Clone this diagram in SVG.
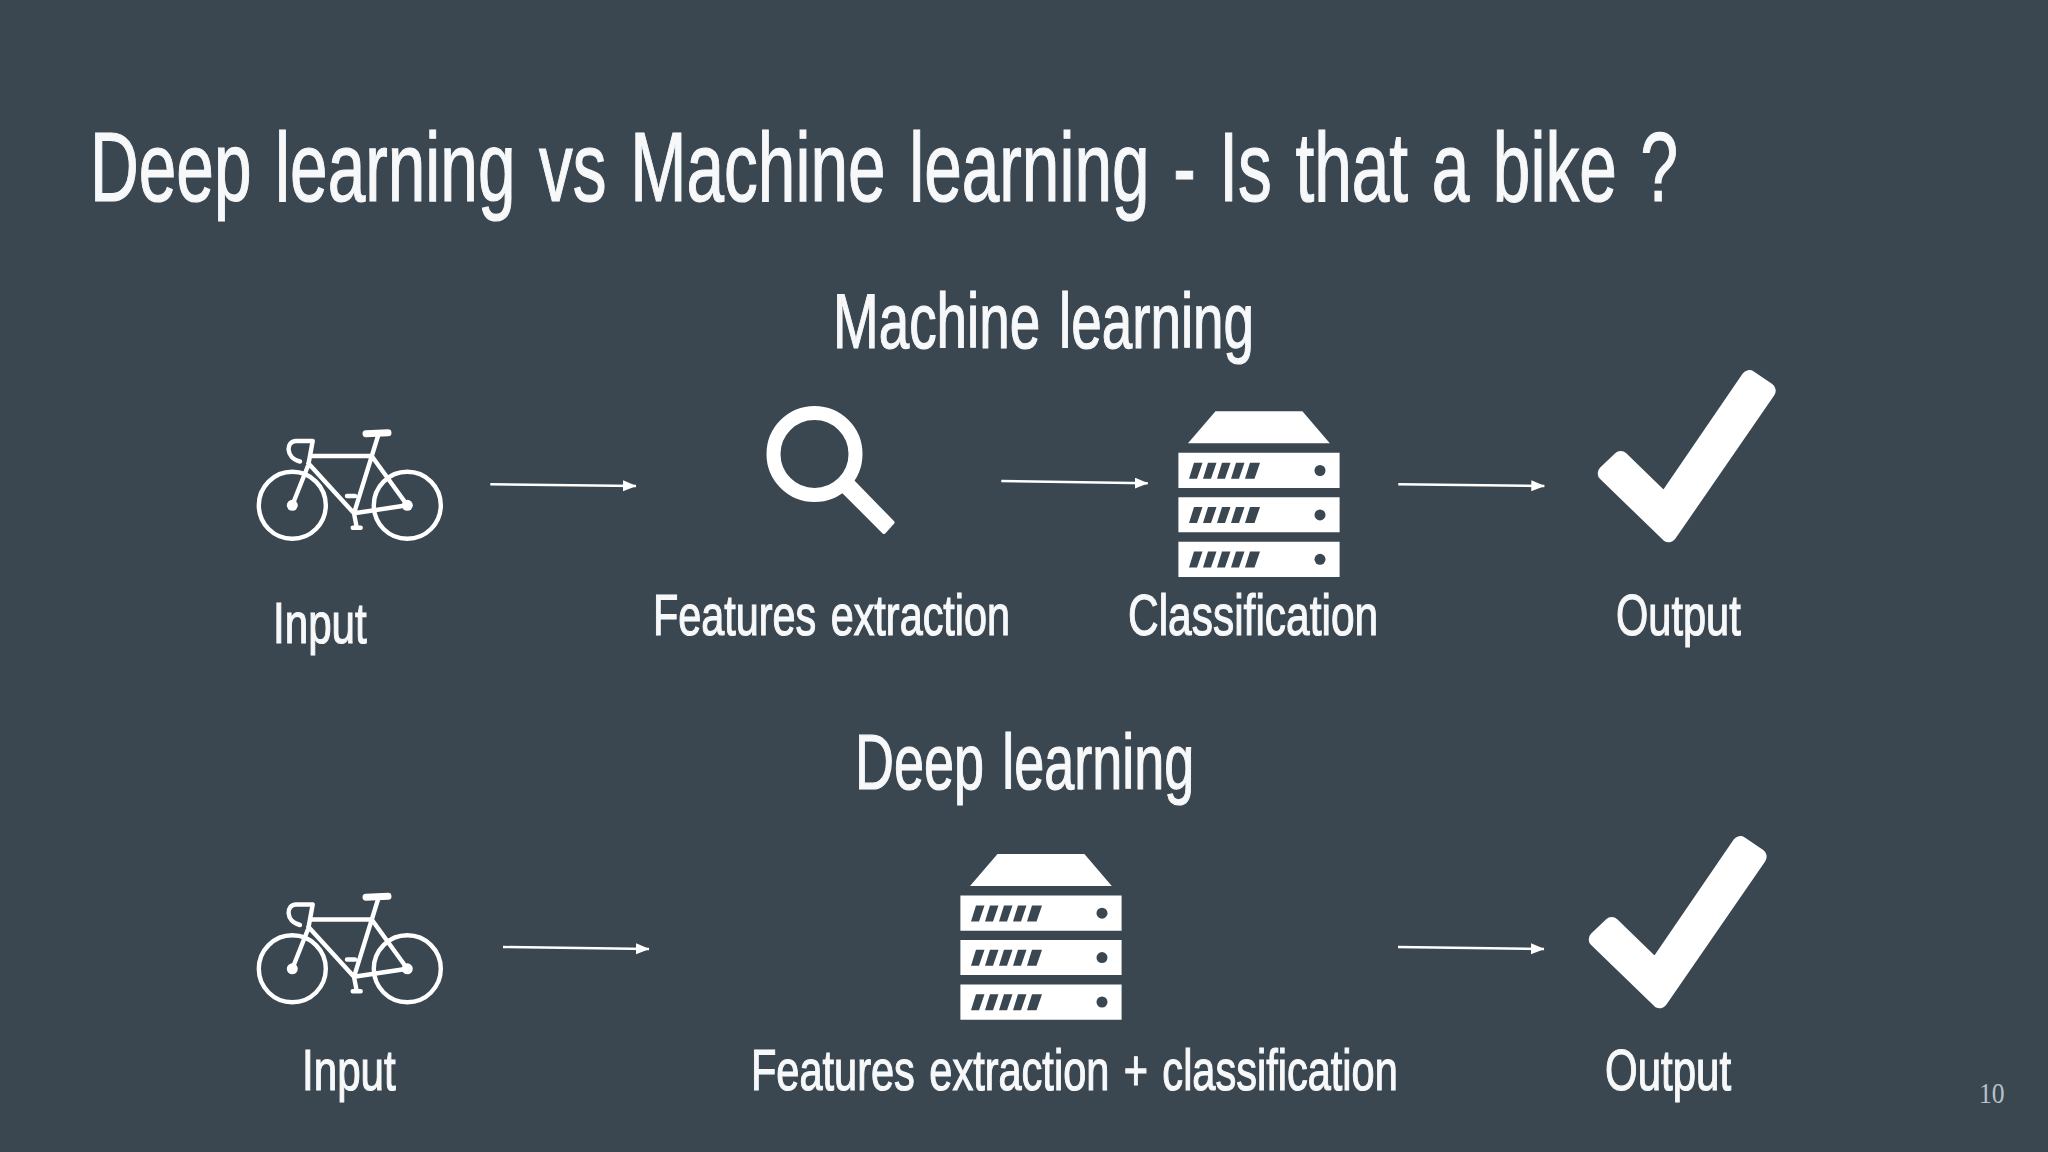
<svg xmlns="http://www.w3.org/2000/svg" width="2048" height="1152" viewBox="0 0 2048 1152">
<style>
text{font-family:"Liberation Sans","Liberation Sans Narrow",Arial,sans-serif;fill:#f7f8f9;stroke:#f7f8f9;stroke-width:1.2}
.t{font-size:98px;word-spacing:7px}.h{font-size:78px;word-spacing:5px}.l{font-size:58px;word-spacing:4px}
.n{font-family:"Liberation Serif",serif;font-size:29px;fill:#b9c2c8;stroke:none}
.c{fill:none;stroke:#fff;stroke-width:2.4}
.a{fill:#fff}
.f{fill:none;stroke:#fff;stroke-width:4.4;stroke-linecap:round;stroke-linejoin:round}
.d{fill:#3a4750}
</style>
<defs>
<marker id="ah" markerUnits="userSpaceOnUse" markerWidth="14" markerHeight="12" refX="13" refY="5.5" orient="auto"><path class="a" d="M0 0L13.500 5.500L0 11Z"/></marker>
<g id="bike">
<circle class="f" cx="292.300" cy="505.300" r="33.500"/>
<circle class="f" cx="407.300" cy="505.300" r="33.500"/>
<circle class="a" cx="292.300" cy="505.300" r="5.500"/>
<circle class="a" cx="407.300" cy="505.300" r="5.500"/>
<path class="f" d="M312.700 441H296C286 441 285 458 300 461.500M312.700 441L308.300 465L292.300 505.300M311.700 456H371.700M308.300 463.300L354 513.300M378.300 435L354 513.300M371.700 456L407.300 505.300M354 513.300L407.300 505.300M354 513.300L356.700 527.300M352.700 527.700H360.700M347 496H355"/>
<path d="M366 433.700L388 432.800" fill="none" stroke="#fff" stroke-width="7" stroke-linecap="round"/>
</g>
<g id="server">
<path class="a" d="M1215.500 411.300H1302.400L1329.800 443.300H1188Z"/>
<path class="a" d="M1178.400 452.700H1339.600V488H1178.400ZM1178.400 497.300H1339.600V532.300H1178.400ZM1178.400 541.700H1339.600V577H1178.400Z"/>
<g id="row">
<path class="d" d="M1194 462.700H1202.500L1197 478.700H1189ZM1208 462.700H1216.500L1211 478.700H1203ZM1222 462.700H1230.500L1225 478.700H1217ZM1236 462.700H1244.500L1239 478.700H1231ZM1250 462.700H1260L1254.500 478.700H1245Z"/>
<circle class="d" cx="1320" cy="470.500" r="5.500"/>
</g>
<use href="#row" y="44.400"/>
<use href="#row" y="88.800"/>
</g>
<polygon id="check" class="a" stroke="#fff" stroke-width="16" stroke-linejoin="round" points="1749.300,378 1767.700,390.700 1668.700,534.300 1605.700,473.300 1620.700,459 1664.700,501.700"/>
</defs>
<rect width="2048" height="1152" fill="#3a4750"/>
<text id="title" class="t" transform="translate(90 201) scale(.66 1)" textLength="2406" lengthAdjust="spacingAndGlyphs">Deep learning vs Machine learning - Is that a bike ?</text>
<text id="heading-ml" class="h" transform="translate(833 348) scale(.66 1)" textLength="638" lengthAdjust="spacingAndGlyphs">Machine learning</text>
<text id="heading-dl" class="h" transform="translate(855 789) scale(.66 1)" textLength="514" lengthAdjust="spacingAndGlyphs">Deep learning</text>
<g id="connectors">
<path class="c" marker-end="url(#ah)" d="M490.300 484.300L636 486"/>
<path class="c" marker-end="url(#ah)" d="M1001.300 481L1147.700 483.300"/>
<path class="c" marker-end="url(#ah)" d="M1398.300 484.300L1544.300 486"/>
<path class="c" marker-end="url(#ah)" d="M503 947L649 949"/>
<path class="c" marker-end="url(#ah)" d="M1398 947L1544 949"/>
</g>
<g id="node-input-ml"><use href="#bike"/><text class="l" transform="translate(273 643) scale(.66 1)" textLength="142" lengthAdjust="spacingAndGlyphs">Input</text></g>
<g id="node-features-ml">
<circle cx="814.500" cy="454" r="41" fill="none" stroke="#fff" stroke-width="14"/>
<polygon class="a" stroke="#fff" stroke-width="4" stroke-linejoin="round" points="843.500,491.500 853,482 892.500,522.500 884,532"/>
<text class="l" transform="translate(653 635) scale(.66 1)" textLength="541" lengthAdjust="spacingAndGlyphs">Features extraction</text></g>
<g id="node-class-ml"><use href="#server"/><text class="l" transform="translate(1128 635) scale(.66 1)" textLength="379" lengthAdjust="spacingAndGlyphs">Classification</text></g>
<g id="node-output-ml"><use href="#check"/><text class="l" transform="translate(1616 635) scale(.66 1)" textLength="189" lengthAdjust="spacingAndGlyphs">Output</text></g>
<g id="node-input-dl"><use href="#bike" y="463.500"/><text class="l" transform="translate(302 1090) scale(.66 1)" textLength="142" lengthAdjust="spacingAndGlyphs">Input</text></g>
<g id="node-features-dl"><use href="#server" x="-218" y="442.700"/><text class="l" transform="translate(751 1090) scale(.66 1)" textLength="980" lengthAdjust="spacingAndGlyphs">Features extraction + classification</text></g>
<g id="node-output-dl"><use href="#check" x="-9" y="466"/><text class="l" transform="translate(1605 1090) scale(.66 1)" textLength="191" lengthAdjust="spacingAndGlyphs">Output</text></g>
<text id="page" class="n" x="1979" y="1103" textLength="25.600" lengthAdjust="spacingAndGlyphs">10</text>
</svg>
